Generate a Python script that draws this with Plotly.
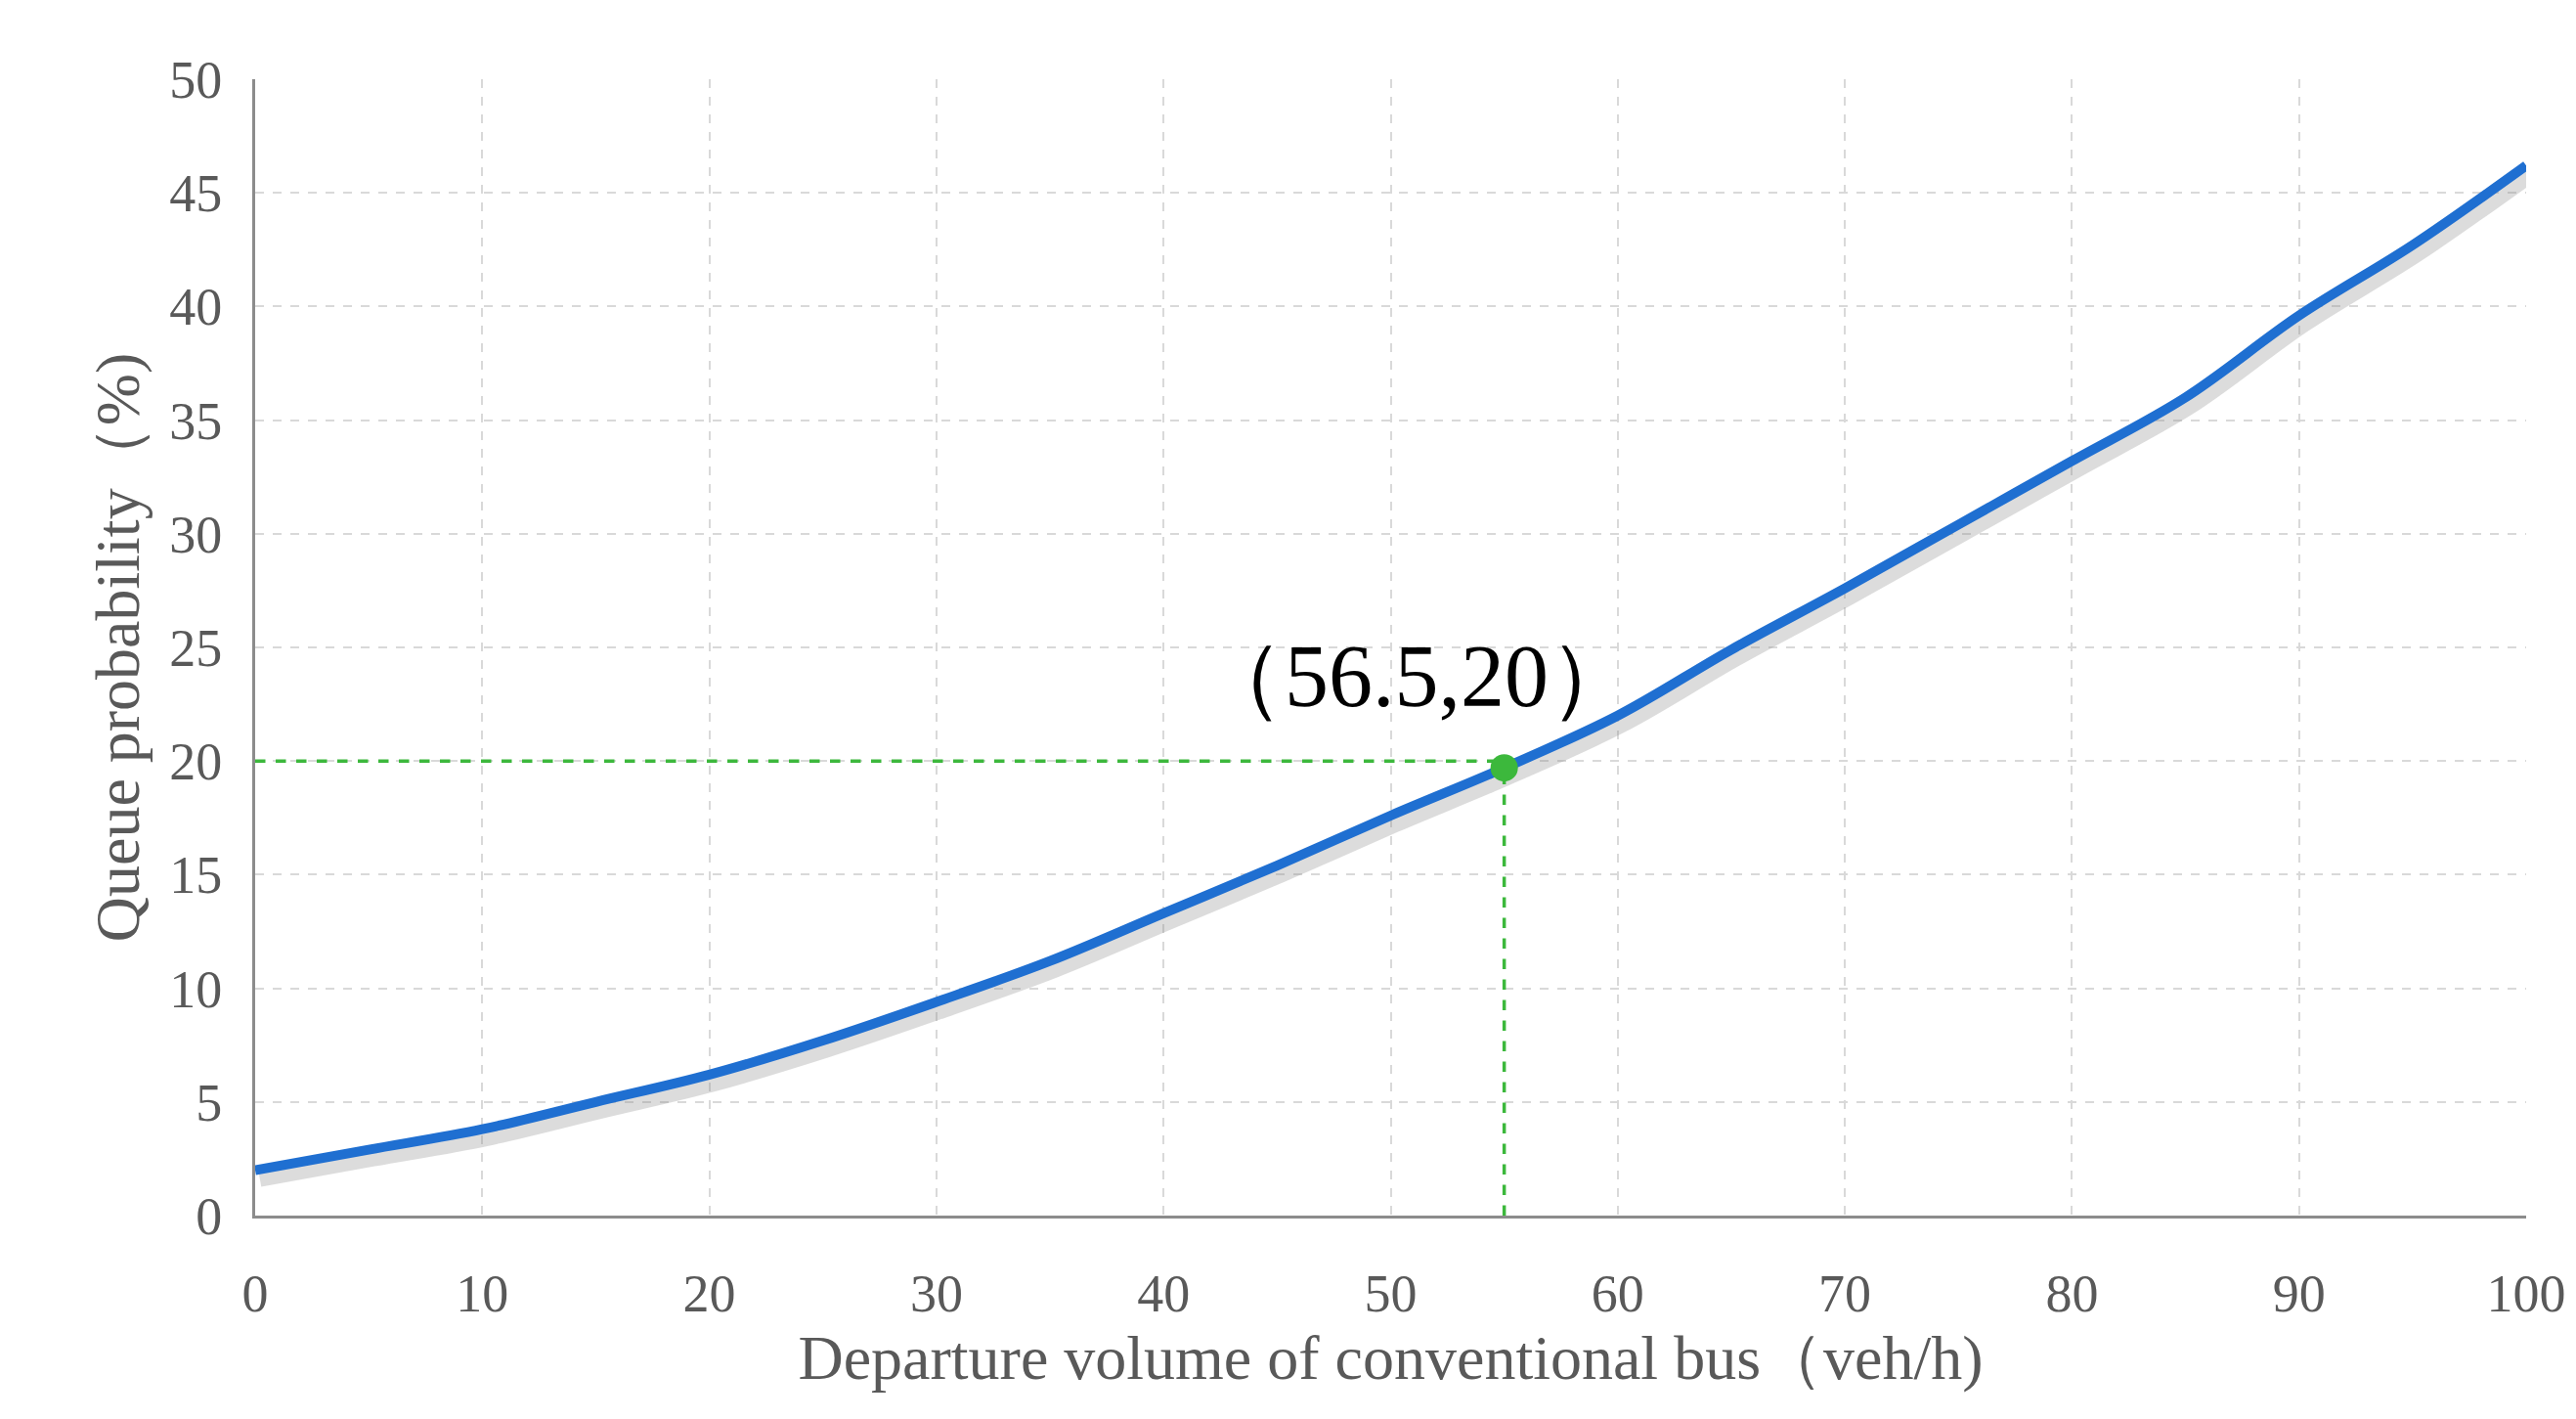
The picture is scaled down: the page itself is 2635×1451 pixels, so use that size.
import plotly.graph_objects as go

x_vals = [0, 5, 10, 15, 20, 25, 30, 35, 40, 45, 50, 55, 60, 65, 70, 75, 80, 85, 90, 95, 100]
y_vals = [2.0, 2.9, 3.8, 5.0, 6.2, 7.7, 9.4, 11.2, 13.3, 15.4, 17.6, 19.7, 22.0, 24.9, 27.6, 30.4, 33.2, 36.0, 39.6, 42.7, 46.2]
point_x = [55]
point_y = [19.7]
ref_y = 20
label_text = "（56.5,20）"

gray = "#595959"
fig = go.Figure()
fig.add_trace(go.Scatter(x=[v + 0.2 for v in x_vals], y=[v - 0.35 for v in y_vals], mode="lines",
                         line=dict(color="rgba(140,140,140,0.3)", width=18, shape="spline"),
                         hoverinfo="skip", showlegend=False))
fig.add_trace(go.Scatter(x=x_vals, y=y_vals, mode="lines",
                         line=dict(color="#1f6fd1", width=10, shape="spline"), showlegend=False))
fig.add_trace(go.Scatter(x=[0, point_x[0]], y=[ref_y, ref_y], mode="lines",
                         line=dict(color="#3cb83c", width=3.5, dash="dash"), showlegend=False))
fig.add_trace(go.Scatter(x=[point_x[0], point_x[0]], y=[0, ref_y], mode="lines",
                         line=dict(color="#3cb83c", width=3.5, dash="dash"), showlegend=False))
fig.add_trace(go.Scatter(x=point_x, y=point_y, mode="markers",
                         marker=dict(color="#3cb83c", size=28), showlegend=False))
fig.add_annotation(x=point_x[0], y=ref_y, text=label_text, showarrow=False,
                   xanchor="center", yanchor="bottom", xshift=-90, yshift=35,
                   font=dict(family="Liberation Serif", size=90, color="black"))

axis_common = dict(showgrid=True, gridcolor="#d9d9d9", griddash="dash", gridwidth=2,
                   showline=True, linecolor="#8c8c8c", linewidth=3, zeroline=False,
                   ticks="", tickfont=dict(family="Liberation Serif", size=54, color=gray))
fig.update_xaxes(range=[0, 100], dtick=10, ticklabelstandoff=30,
                 title=dict(text="Departure volume of conventional bus（veh/h)", font=dict(family="Liberation Serif", size=64, color=gray), standoff=10),
                 **axis_common)
fig.update_yaxes(range=[0, 50], dtick=5, ticklabelstandoff=20,
                 title=dict(text="Queue probability（%)", font=dict(family="Liberation Serif", size=64, color=gray), standoff=10),
                 **axis_common)
fig.update_layout(width=2635, height=1451, plot_bgcolor="white", paper_bgcolor="white",
                  margin=dict(l=253, r=59, t=73, b=216))
fig.write_html("out.html")
